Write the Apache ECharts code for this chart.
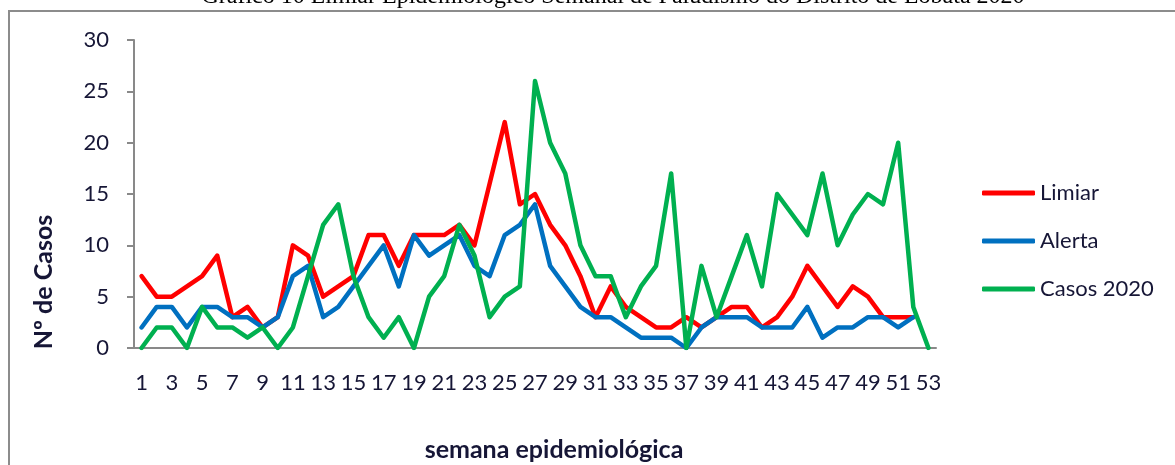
<!DOCTYPE html>
<html>
<head>
<meta charset="utf-8">
<script src="https://cdn.jsdelivr.net/npm/echarts@6/dist/echarts.min.js"></script>
<style>
  html, body { margin: 0; padding: 0; background: #fff; }
  #chart { width: 1175px; height: 465px; }
</style>
</head>
<body>
<div id="chart"></div>
<script>
// semanas 1..53
var semanas = [];
for (var s = 1; s <= 53; s++) semanas.push(String(s));

var limiar = [7, 5, 5, 6, 7, 9, 3, 4, 2, 3, 10, 9, 5, 6, 7, 11, 11, 8, 11, 11,
  11, 12, 10, 16, 22, 14, 15, 12, 10, 7, 3, 6, 4, 3, 2, 2, 3, 2, 3, 4,
  4, 2, 3, 5, 8, 6, 4, 6, 5, 3, 3, 3];
var alerta = [2, 4, 4, 2, 4, 4, 3, 3, 2, 3, 7, 8, 3, 4, 6, 8, 10, 6, 11, 9,
  10, 11, 8, 7, 11, 12, 14, 8, 6, 4, 3, 3, 2, 1, 1, 1, 0, 2, 3, 3,
  3, 2, 2, 2, 4, 1, 2, 2, 3, 3, 2, 3];
var casos2020 = [0, 2, 2, 0, 4, 2, 2, 1, 2, 0, 2, 7, 12, 14, 7, 3, 1, 3, 0, 5,
  7, 12, 9, 3, 5, 6, 26, 20, 17, 10, 7, 7, 3, 6, 8, 17, 0, 8, 3, 7,
  11, 6, 15, 13, 11, 17, 10, 13, 15, 14, 20, 4, 0];

var textColor = "#161636";
var axisGray = "#898989";

var chartDom = document.getElementById("chart");
var myChart = echarts.init(chartDom);

function linha(nome, dados, cor) {
  return {
    name: nome,
    type: "line",
    data: dados,
    symbol: "none",
    smooth: false,
    lineStyle: { width: 4.5, color: cor, join: "round", cap: "round" },
    itemStyle: { color: cor },
  };
}

var option = {
  animation: false,
  backgroundColor: "#fff",
  graphic: [
    {
      type: "rect",
      shape: { x: 9, y: 11, width: 1400, height: 700 },
      style: { fill: "none", stroke: "#8c8c8c", lineWidth: 2 },
      silent: true,
    },
    {
      type: "text",
      x: 613,
      y: -3,
      style: {
        text: "Gráfico 10 Limiar Epidemiológico Semanal de Paludismo do Distrito de Lobata 2020",
        font: "24px 'Liberation Serif'",
        fill: "#000",
        textAlign: "center",
        textVerticalAlign: "middle",
      },
    },
    {
      type: "text",
      x: 44,
      y: 282,
      rotation: Math.PI / 2,
      style: {
        text: "Nº de Casos",
        font: "bold 25px Lato",
        fill: textColor,
        textAlign: "center",
        textVerticalAlign: "middle",
      },
    },
    {
      type: "text",
      x: 554,
      y: 450,
      style: {
        text: "semana epidemiológica",
        font: "bold 25px Lato",
        fill: textColor,
        textAlign: "center",
        textVerticalAlign: "middle",
      },
    },
  ],
  legend: {
    orient: "vertical",
    left: 977,
    top: 177,
    itemWidth: 53,
    itemHeight: 5,
    itemGap: 26,
    icon: "roundRect",
    textStyle: { fontFamily: "Lato", fontSize: 22, color: textColor },
    data: ["Limiar", "Alerta", "Casos 2020"],
  },
  grid: { left: 134, right: 239, top: 40, bottom: 117, containLabel: false },
  xAxis: {
    type: "category",
    data: semanas,
    boundaryGap: true,
    axisLine: { lineStyle: { color: axisGray, width: 2 } },
    axisTick: { show: false },
    axisLabel: {
      interval: 1,
      margin: 24,
      fontFamily: "Lato",
      fontSize: 22,
      color: textColor,
      hideOverlap: false,
    },
  },
  yAxis: {
    type: "value",
    min: 0,
    max: 30,
    interval: 5,
    axisLine: { show: true, lineStyle: { color: axisGray, width: 2 } },
    axisTick: { show: true, length: 7, lineStyle: { color: axisGray, width: 2 } },
    splitLine: { show: false },
    axisLabel: { margin: 25, fontFamily: "Lato", fontSize: 22, color: textColor },
  },
  series: [
    linha("Limiar", limiar, "#ff0000"),
    linha("Alerta", alerta, "#0070c0"),
    linha("Casos 2020", casos2020, "#00b050"),
  ],
};

myChart.setOption(option);
window.addEventListener("resize", function () {
  myChart.resize();
});
</script>
</body>
</html>
